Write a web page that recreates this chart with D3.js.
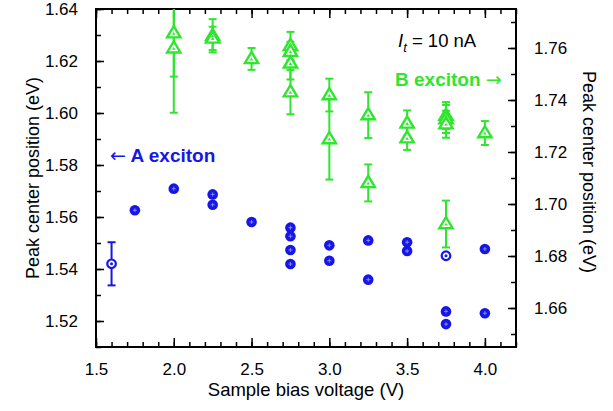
<!DOCTYPE html>
<html>
<head>
<meta charset="utf-8">
<script src="https://cdn.jsdelivr.net/npm/d3@7"></script>
<style>
  body { margin: 0; background: #fff; }
  svg text { font-family: "Liberation Sans", Arial, sans-serif; }
</style>
</head>
<body>
<svg id="main" width="613" height="411"></svg>
<script>
// A exciton (left axis)
const aBias  = [1.6, 1.75, 2.0, 2.25, 2.25, 2.5, 2.75, 2.75, 2.75, 2.75, 3.0, 3.0, 3.25, 3.25, 3.5, 3.5, 3.75, 3.75, 3.75, 4.0, 4.0];
const aPeak  = [1.5420, 1.5626, 1.5709, 1.5687, 1.5647, 1.5581, 1.5559, 1.5526, 1.5473, 1.5419, 1.5491, 1.5432, 1.5510, 1.5359, 1.5503, 1.5469, 1.5451, 1.5237, 1.5188, 1.5477, 1.5230];
const aErr   = [0.0083, 0, 0, 0, 0, 0, 0, 0, 0, 0, 0, 0, 0, 0, 0, 0, 0, 0, 0, 0, 0];
const aOpen  = [true, false, false, false, false, false, false, false, false, false, false, false, false, false, false, false, true, false, false, false, false];

// B exciton (right axis)
const bBias = [2.0, 2.0, 2.25, 2.25, 2.5, 2.75, 2.75, 2.75, 2.75, 3.0, 3.0, 3.25, 3.25, 3.5, 3.5, 3.75, 3.75, 3.75, 3.75, 4.0];
const bPeak = [1.7657, 1.7599, 1.7647, 1.7637, 1.7558, 1.7608, 1.7586, 1.7541, 1.7430, 1.7419, 1.7250, 1.7342, 1.7081, 1.7310, 1.7253, 1.7340, 1.7327, 1.7307, 1.6923, 1.7273];
const bErr  = [0.0167, 0.0248, 0.0064, 0.0045, 0.0042, 0.0054, 0.0038, 0.0062, 0.0085, 0.0063, 0.0156, 0.0088, 0.0071, 0.0050, 0.0045, 0.0052, 0.0054, 0.0052, 0.0090, 0.0046];

const xTicks = [1.5, 2.0, 2.5, 3.0, 3.5, 4.0];
const leftTicks = [1.52, 1.54, 1.56, 1.58, 1.60, 1.62, 1.64];
const rightTicks = [1.66, 1.68, 1.70, 1.72, 1.74, 1.76];

const blue = "#1616e8";
const green = "#2ee62e";

const m = { left: 96, right: 516, top: 9, bottom: 347 };
const svg = d3.select("#main");

const x = d3.scaleLinear().domain([1.5, 4.2]).range([m.left, m.right]);
const yL = d3.scaleLinear().domain([1.51, 1.64]).range([m.bottom, m.top]);
const yR = d3.scaleLinear().domain([1.645, 1.775]).range([m.bottom, m.top]);

svg.append("clipPath").attr("id", "clip")
  .append("rect").attr("x", m.left).attr("y", m.top).attr("width", m.right - m.left).attr("height", m.bottom - m.top);

// axes with inward ticks
function styleAxis(g) {
  g.select(".domain").remove();
  g.selectAll("line").attr("stroke", "#000").attr("stroke-width", 1.5);
  g.selectAll("text").attr("font-size", 17).attr("fill", "#000");
}
const xMinor = d3.range(1.5, 4.21, 0.1);

svg.append("g").attr("transform", `translate(0,${m.bottom})`)
  .call(d3.axisBottom(x).tickValues(xMinor).tickSize(-5).tickFormat(""))
  .call(styleAxis);
svg.append("g").attr("transform", `translate(0,${m.bottom})`)
  .call(d3.axisBottom(x).tickValues(xTicks).tickSize(-9).tickPadding(16).tickFormat(d3.format(".1f")))
  .call(styleAxis);
svg.append("g").attr("transform", `translate(0,${m.top})`)
  .call(d3.axisTop(x).tickValues(xMinor).tickSize(-5).tickFormat(""))
  .call(styleAxis);
svg.append("g").attr("transform", `translate(0,${m.top})`)
  .call(d3.axisTop(x).tickValues(xTicks).tickSize(-9).tickFormat(""))
  .call(styleAxis);

const lMinor = d3.range(1.51, 1.6401, 0.01);
svg.append("g").attr("transform", `translate(${m.left},0)`)
  .call(d3.axisLeft(yL).tickValues(lMinor).tickSize(-5).tickFormat(""))
  .call(styleAxis);
svg.append("g").attr("transform", `translate(${m.left},0)`)
  .call(d3.axisLeft(yL).tickValues(leftTicks).tickSize(-8).tickPadding(18).tickFormat(d3.format(".2f")))
  .call(styleAxis);

const rMinor = d3.range(1.65, 1.7701, 0.01);
svg.append("g").attr("transform", `translate(${m.right},0)`)
  .call(d3.axisRight(yR).tickValues(rMinor).tickSize(-5).tickFormat(""))
  .call(styleAxis);
svg.append("g").attr("transform", `translate(${m.right},0)`)
  .call(d3.axisRight(yR).tickValues(rightTicks).tickSize(-8).tickPadding(18).tickFormat(d3.format(".2f")))
  .call(styleAxis);

svg.append("rect").attr("x", m.left).attr("y", m.top).attr("width", m.right - m.left).attr("height", m.bottom - m.top)
  .attr("fill", "none").attr("stroke", "#000").attr("stroke-width", 2);

// axis titles
svg.append("text").attr("x", 306).attr("y", 396).attr("text-anchor", "middle")
  .attr("font-size", 18.5).text("Sample bias voltage (V)");
svg.append("text").attr("transform", "translate(39,178) rotate(-90)").attr("text-anchor", "middle")
  .attr("font-size", 18).text("Peak center position (eV)");
svg.append("text").attr("transform", "translate(583,172) rotate(90)").attr("text-anchor", "middle")
  .attr("font-size", 18).text("Peak center position (eV)");

const plot = svg.append("g").attr("clip-path", "url(#clip)");

// B exciton error bars + triangles
const bData = bBias.map((v, i) => ({ v, p: bPeak[i], e: bErr[i] }));
const bBars = plot.append("g").attr("stroke", green).attr("stroke-width", 2);
bData.forEach(d => {
  const cx = x(d.v), y1 = yR(d.p + d.e), y2 = yR(d.p - d.e);
  bBars.append("line").attr("x1", cx).attr("x2", cx).attr("y1", y1).attr("y2", y2);
  bBars.append("line").attr("x1", cx - 4).attr("x2", cx + 4).attr("y1", y1).attr("y2", y1);
  bBars.append("line").attr("x1", cx - 4).attr("x2", cx + 4).attr("y1", y2).attr("y2", y2);
});
const tri = (s) => `M0,${-s}L${s * 0.95},${s * 0.6}L${-s * 0.95},${s * 0.6}Z`;
plot.append("g").selectAll("path.tri").data(bData).join("path")
  .attr("transform", d => `translate(${x(d.v)},${yR(d.p)})`)
  .attr("d", tri(7)).attr("fill", "#fff").attr("stroke", green).attr("stroke-width", 2.4);
plot.append("g").selectAll("path.in").data(bData).join("path")
  .attr("transform", d => `translate(${x(d.v)},${yR(d.p) + 0.5})`)
  .attr("d", tri(1.8)).attr("fill", green);

// A exciton
const aData = aBias.map((v, i) => ({ v, p: aPeak[i], e: aErr[i], open: aOpen[i] }));
const aBars = plot.append("g").attr("stroke", blue).attr("stroke-width", 2);
aData.filter(d => d.e > 0).forEach(d => {
  const cx = x(d.v), y1 = yL(d.p + d.e), y2 = yL(d.p - d.e);
  aBars.append("line").attr("x1", cx).attr("x2", cx).attr("y1", y1).attr("y2", y2);
  aBars.append("line").attr("x1", cx - 4).attr("x2", cx + 4).attr("y1", y1).attr("y2", y1);
  aBars.append("line").attr("x1", cx - 4).attr("x2", cx + 4).attr("y1", y2).attr("y2", y2);
});
const aG = plot.append("g").selectAll("g").data(aData).join("g")
  .attr("transform", d => `translate(${x(d.v)},${yL(d.p)})`);
aG.append("circle").attr("r", d => d.open ? 4.3 : 5.3)
  .attr("fill", d => d.open ? "#fff" : blue)
  .attr("stroke", blue).attr("stroke-width", d => d.open ? 2.2 : 0);
aG.filter(d => d.open).append("circle").attr("r", 1.5).attr("fill", blue);
aG.filter(d => !d.open).append("path").attr("d", "M-2,0H2M0,-2V2")
  .attr("stroke", "#9a9af8").attr("stroke-width", 0.8);

// annotations
const aLab = svg.append("text").attr("x", 110).attr("y", 162).attr("fill", blue)
  .attr("font-size", 19).attr("font-weight", "bold");
aLab.append("tspan").attr("font-family", "DejaVu Sans").attr("font-weight", "normal").text("\u2190");
aLab.append("tspan").text(" A exciton");
const bLab = svg.append("text").attr("x", 395).attr("y", 86).attr("fill", green)
  .attr("font-size", 19).attr("font-weight", "bold");
bLab.append("tspan").text("B exciton ");
bLab.append("tspan").attr("font-family", "DejaVu Sans").attr("font-weight", "normal").text("\u2192");
const it = svg.append("text").attr("x", 398).attr("y", 47).attr("font-size", 18.5);
it.append("tspan").attr("font-style", "italic").text("I");
it.append("tspan").attr("font-style", "italic").attr("font-size", 13).attr("dy", 5).text("t");
it.append("tspan").attr("dy", -5).text(" = 10 nA");
</script>
</body>
</html>
